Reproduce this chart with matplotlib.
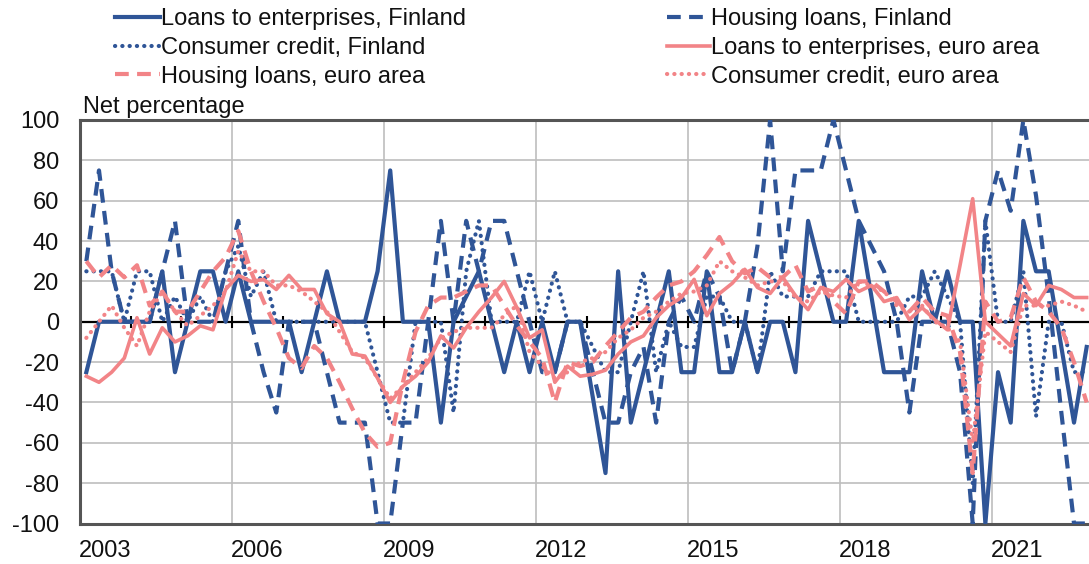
import matplotlib
matplotlib.use('Agg')
import matplotlib.pyplot as plt
import numpy as np
from matplotlib.lines import Line2D

plt.rcParams['font.family'] = ['Liberation Sans', 'DejaVu Sans']

# ---- data (net percentages, quarterly 2003Q1 .. 2022Q4) ----
loans_ent_fi = [-25, 0, 0, 0, 0, 0, 25, -25, 0, 25, 25, 0, 25, 0,
                0, 0, 0, -25, 0, 25, 0, 0, 0, 25, 75, 0, 0, 0,
                -50, 0, 12.5, 25, 0, -25, 0, -25, 0, -25, 0, 0, -37.5, -75,
                25, -50, -25, 0, 25, -25, -25, 25, -25, -25, 0, -25, 0, 0,
                -25, 50, 25, 0, 0, 50, 12.5, -25, -25, -25, 25, 0, 25, 0,
                0, -100, -25, -50, 50, 25, 25, -12.5, -50, -12.5]
housing_fi = [30, 75, 25, 0, 0, 0, 25, 50, 0, 0, 0, 25, 50, 0,
              -25, -45, 0, 0, 0, -25, -50, -50, -50, -100, -100, -50, -50, 0,
              50, 0, 50, 25, 50, 50, 25, 0, -25, -25, 0, 0, -25, -50,
              -50, -25, -12.5, -50, 0, 12.5, 0, 25, 12.5, -25, 0, 37.5, 100, 25,
              75, 75, 75, 100, 75, 50, 37.5, 25, 0, -45, 0, 0, 0, -25,
              -100, 50, 75, 55, 100, 62.5, 12.5, -45, -100, -100]
consumer_fi = [25, 25, 25, 0, 25, 25, 0, 12.5, 0, 12.5, 0, 25, 37.5, 12.5,
               25, 0, 0, 0, 0, 0, 0, 0, 0, -25, -50, -50, 0, 0,
               0, -45, 25, 50, 0, 0, 0, 25, 0, 25, 0, 0, -12.5, -25,
               -25, 0, 25, -25, 0, -12.5, -12.5, 12.5, 12.5, 0, 0, -25, 25, 12.5,
               12.5, 12.5, 25, 25, 25, 0, 0, 0, 0, 12.5, 12.5, 25, 12.5, 0,
               -80, 50, 0, 0, 25, -47, 0, 0, -25, -25]
loans_ent_ea = [-27, -30, -25, -18, 2, -16, -3, -10, -7, -2, -4, 16, 23, 20,
                21, 16, 23, 16, 16, 4, 0, -16, -17, -28, -40, -32, -27, -20,
                -7, -13, -3, 5, 12, 20, 7, -8, -4, -30, -22, -27, -26, -24,
                -16, -10, -7, 2, 8, 12, 21, 3, 14, 19, 26, 17, 14, 22,
                13, 6, 17, 15, 21, 15, 18, 10, 12, 1, 7, 1, -4, 28,
                61, 0, -6, -12, 14, 8, 18, 16, 12, 12]
housing_ea = [30, 22, 28, 22, 28, 8, 15, 5, 5, 15, 25, 32, 45, 25,
              10, -3, -18, -23, -12, -18, -30, -43, -55, -62, -60, -30, -5, 8,
              12, 12, 15, 18, 18, 8, -2, -10, -18, -40, -20, -22, -20, -12,
              -5, 2, 5, 12, 18, 20, 25, 33, 42, 30, 24, 27, 22, 22,
              28, 15, 18, 10, 4, 20, 20, 15, 10, 5, 12, 5, 3, -15,
              -75, 10, 0, 2, 22, 10, 5, -3, -20, -40]
consumer_ea = [-8, 0, 8, -3, -12, 5, 15, 5, -2, 3, 8, 15, 35, 25,
               25, 18, 18, 15, 10, 5, -5, -15, -18, -28, -38, -32, -25, -18,
               -8, -5, -3, -3, -3, 3, 8, -15, -22, -28, -25, -20, -18, -15,
               -8, -4, 2, 5, 10, 14, 15, 18, 30, 25, 22, 18, 20, 20,
               12, 10, 15, 13, 12, 20, 18, 15, 8, 5, 8, 0, -3, -10,
               -60, -5, -10, -15, 8, 8, 8, 10, 8, 5]

start_year = 2003
label_years = [2003, 2006, 2009, 2012, 2015, 2018, 2021]
y_ticks = list(range(-100, 101, 20))

labels = ['Loans to enterprises, Finland', 'Housing loans, Finland',
          'Consumer credit, Finland', 'Loans to enterprises, euro area',
          'Housing loans, euro area', 'Consumer credit, euro area']

BLUE = '#2F5597'
PINK = '#F28487'
W, H = 1089, 564

fig = plt.figure(figsize=(W / 100, H / 100), dpi=100)
ax = fig.add_axes([80 / W, 40.5 / H, 1013 / W, 403.5 / H])

x = start_year + (np.arange(len(loans_ent_fi)) + 0.5) / 4.0

dash = (0, (3.3, 2.0))
dot = (0, (0.05, 1.7))
styles = [
    dict(color=BLUE, lw=3.0, ls='-'),
    dict(color=BLUE, lw=3.0, ls=dash),
    dict(color=BLUE, lw=3.0, ls=dot, dash_capstyle='round'),
    dict(color=PINK, lw=2.6, ls='-'),
    dict(color=PINK, lw=3.0, ls=dash),
    dict(color=PINK, lw=3.0, ls=dot, dash_capstyle='round'),
]
series = [loans_ent_fi, housing_fi, consumer_fi, loans_ent_ea, housing_ea, consumer_ea]
for s, st in zip(series, styles):
    ax.plot(x, s, zorder=3, clip_on=True, **st)

# zero axis with yearly tick marks
ax.axhline(0, color='black', lw=1.6, zorder=2.5)
yrs = np.arange(start_year + 1, start_year + 20)
ax.plot(yrs, np.zeros(len(yrs)), ls='none', marker='|', ms=9, mew=1.5,
        color='black', zorder=2.6)

ax.set_xlim(start_year, start_year + 20)
ax.set_ylim(-100, 100)
ax.set_yticks(y_ticks)
ax.set_yticklabels([str(v) for v in y_ticks])
ax.set_xticks([yv + 0.5 for yv in label_years])
ax.set_xticklabels([str(yv) for yv in label_years])
ax.set_xticks([yv for yv in label_years[1:]], minor=True)
ax.tick_params(axis='both', which='both', length=0, labelsize=17, colors='#111111')
ax.tick_params(axis='y', pad=15)
ax.tick_params(axis='x', pad=12)
ax.yaxis.grid(True, color='#BEBEBE', lw=1.2, zorder=0)
ax.xaxis.grid(True, which='minor', color='#BEBEBE', lw=1.2, zorder=0)
ax.xaxis.grid(False, which='major')
ax.set_axisbelow(True)
for sp in ['left', 'top', 'bottom']:
    ax.spines[sp].set_color('#555555')
    ax.spines[sp].set_linewidth(2.2)
ax.spines['right'].set_visible(False)

fig.text(83 / W, 1 - 113 / H, 'Net percentage', fontsize=17, ha='left', va='baseline',
         color='#111111')

# legend (two columns, manual placement)
col_x = [(115, 160), (667, 710)]
row_y = [17, 45.5, 74]
order = [0, 2, 4, 1, 3, 5]
for k, idx in enumerate(order):
    c, r = divmod(k, 3)
    x0, x1 = col_x[c]
    yy = 1 - row_y[r] / H
    st = styles[idx]
    fig.add_artist(Line2D([x0 / W, x1 / W], [yy, yy], transform=fig.transFigure, **st))
    fig.text(x1 / W + 1 / W, 1 - (row_y[r] + 8.5) / H, labels[idx], fontsize=17,
             ha='left', va='baseline', color='#111111')

fig.savefig('out.png', dpi=100)
